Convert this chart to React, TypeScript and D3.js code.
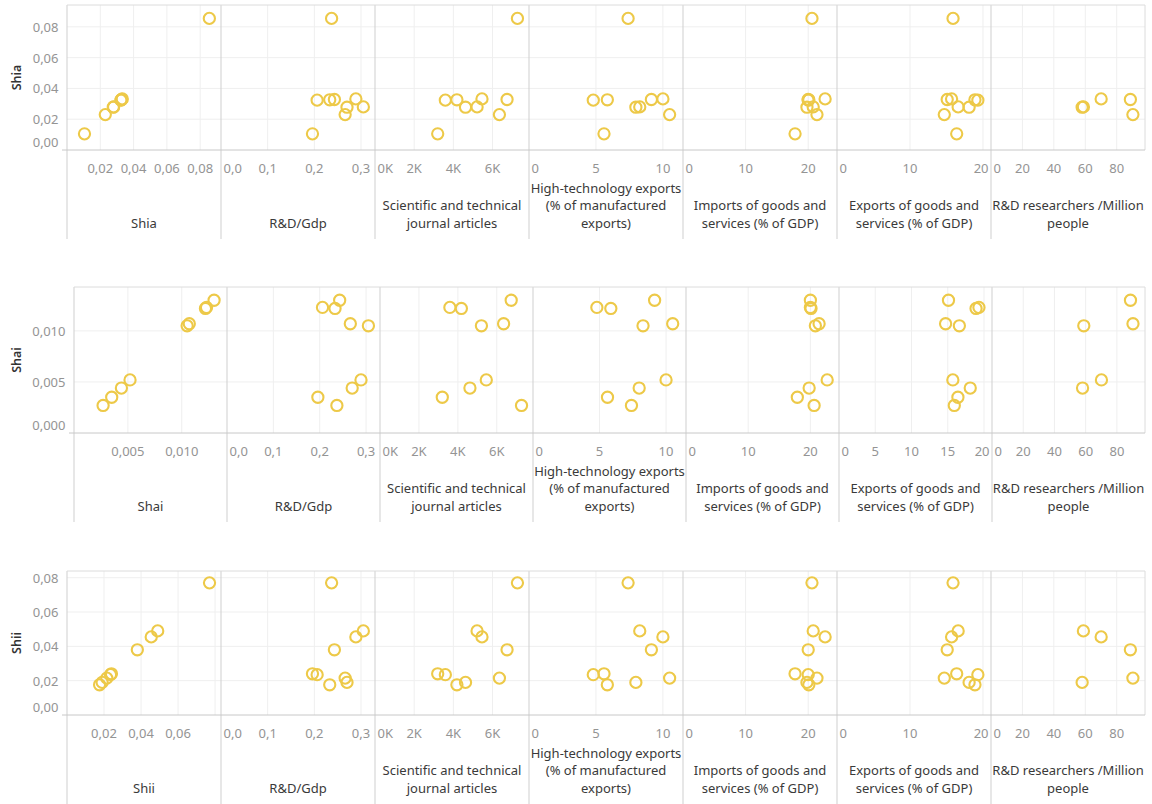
import React from 'react';
import * as d3 from 'd3';

// ---------- data (9 observations) ----------
const rdGdp = [0.196, 0.206, 0.233, 0.237, 0.243, 0.266, 0.27, 0.289, 0.305];
const journalArticles = [3200, 3590, 4180, 7270, 6740, 6350, 4620, 5460, 5210];
const highTechExports = [5.6, 4.8, 5.85, 7.4, 9.14, 10.5, 7.98, 10.0, 8.27];
const importsGdp = [17.9, 20.0, 20.1, 20.6, 20.0, 21.4, 19.8, 22.7, 20.8];
const exportsGdp = [16.4, 19.3, 18.9, 15.9, 15.1, 14.7, 18.1, 15.7, 16.6];
const researchers: (number | null)[] = [null, null, null, null, 88.7, 90.3, 58.0, 70.1, 58.8];
const shia = [0.0105, 0.0324, 0.0326, 0.0855, 0.0328, 0.023, 0.0278, 0.0332, 0.028];
const shai = [0.0035, 0.0123, 0.0122, 0.0027, 0.013, 0.0107, 0.0044, 0.0052, 0.0105];
const shii = [0.024, 0.0235, 0.0176, 0.077, 0.038, 0.0215, 0.019, 0.0455, 0.049];

const rowNames = ['Shia', 'Shai', 'Shii'];
const rowValues = [shia, shai, shii];
const columnValues: (number | null)[][] = [rdGdp, journalArticles, highTechExports, importsGdp, exportsGdp, researchers];
const columnTitles = [
  ['R&D/Gdp'],
  ['Scientific and technical', 'journal articles'],
  ['High-technology exports', '(% of manufactured', 'exports)'],
  ['Imports of goods and', 'services (% of GDP)'],
  ['Exports of goods and', 'services (% of GDP)'],
  ['R&D researchers /Million', 'people'],
];

// axis extents
const selfXMax = [0.0925, 0.0142, 0.0832];
const selfYMax = [0.0942, 0.0143, 0.0839];
const columnXMax = [0.33, 7860, 11.5, 24.6, 21.1, 98];

// ticks
const selfYTicks = [
  [0, 0.02, 0.04, 0.06, 0.08],
  [0, 0.005, 0.01],
  [0, 0.02, 0.04, 0.06, 0.08],
];
const selfXGrid = [
  [0.02, 0.04, 0.06, 0.08],
  [0.005, 0.01],
  [0.02, 0.04, 0.06, 0.08],
];
const selfXLabels = [
  [0.02, 0.04, 0.06, 0.08],
  [0.005, 0.01],
  [0.02, 0.04, 0.06],
];
const rdTicks = [0, 0.1, 0.2, 0.3];
const journalTicks = [0, 2000, 4000, 6000];
const highTechTicks = [0, 5, 10];
const importsTicks = [0, 10, 20];
const exportsTicksWide = [0, 10, 20];
const exportsTicksNarrow = [0, 5, 10, 15, 20];
const researcherTicks = [0, 20, 40, 60, 80];

const selfDecimals = [2, 3, 2];

// ---------- layout ----------
const W = 1152;
const H = 804;
const RIGHT = 1145;
const rowLayout = [
  { top: 5, axisY: 150, left: 67 },
  { top: 287, axisY: 433, left: 74 },
  { top: 571, axisY: 715, left: 67 },
];
const FONT = '"Noto Sans", "Open Sans", Arial, sans-serif';
const TICK_SIZE = 13;
const TITLE_SIZE = 13;
const MARK = '#EDC948';
const GRID = '#efefef';
const SEP = '#cfcfcf';
const TICK_COLOR = '#949494';
const TITLE_COLOR = '#3a3a3a';

let ctx: CanvasRenderingContext2D | null = null;
function textWidth(t: string, size: number) {
  if (typeof document !== 'undefined') {
    if (!ctx) ctx = document.createElement('canvas').getContext('2d');
    if (ctx) {
      ctx.font = `${size}px "Noto Sans"`;
      return ctx.measureText(t).width;
    }
  }
  return t.length * size * 0.55;
}

const comma = (s: string) => s.replace('.', ',');
function fmtCol(ci: number, v: number) {
  if (ci === 0) return comma(d3.format('.1f')(v));
  if (ci === 1) return `${Math.round(v / 1000)}K`;
  return d3.format('d')(v);
}

export default function App() {
  const els: React.ReactNode[] = [];
  let k = 0;

  rowLayout.forEach((row, ri) => {
    const colW = (RIGHT - row.left) / 7;
    const y = d3.scaleLinear().domain([0, selfYMax[ri]]).range([row.axisY, row.top]);
    const ys = rowValues[ri];
    const headerBottom = row.axisY + 89;

    for (let c = 0; c < 7; c++) {
      const x0 = row.left + c * colW;
      const x1 = x0 + colW;
      const xs: (number | null)[] = c === 0 ? ys : columnValues[c - 1];
      const xMax = c === 0 ? selfXMax[ri] : columnXMax[c - 1];
      const x = d3.scaleLinear().domain([0, xMax]).range([x0, x1]);
      let grid: number[];
      let labels: number[];
      let fmt: (v: number) => string;
      if (c === 0) {
        grid = selfXGrid[ri];
        labels = selfXLabels[ri];
        fmt = (v) => comma(d3.format(`.${selfDecimals[ri]}f`)(v));
      } else {
        const ci = c - 1;
        const list = [rdTicks, journalTicks, highTechTicks, importsTicks, ri === 1 ? exportsTicksNarrow : exportsTicksWide, researcherTicks][ci];
        grid = list.filter((v) => v > 0);
        labels = list;
        fmt = (v) => fmtCol(ci, v);
      }
      // horizontal grid
      selfYTicks[ri].filter((v) => v > 0).forEach((v) => {
        els.push(<line key={k++} x1={x0} x2={x1} y1={y(v)} y2={y(v)} stroke={GRID} strokeWidth={1} />);
      });
      // vertical grid
      grid.forEach((v) => {
        els.push(<line key={k++} x1={x(v)} x2={x(v)} y1={row.top} y2={row.axisY} stroke={GRID} strokeWidth={1} />);
      });
      // x tick labels
      labels.forEach((v) => {
        const t = fmt(v);
        const w = textWidth(t, TICK_SIZE);
        let cx = x(v);
        cx = Math.max(cx, x0 + 2.5 + w / 2);
        cx = Math.min(cx, x1 - 2.5 - w / 2);
        els.push(
          <text key={k++} x={cx} y={row.axisY + 18} textAnchor="middle" dominantBaseline="central" fontSize={TICK_SIZE} fill={TICK_COLOR} fontFamily={FONT}>{t}</text>
        );
      });
      // column title
      const title = c === 0 ? [rowNames[ri]] : columnTitles[c - 1];
      const n = title.length;
      title.forEach((line, li) => {
        const cy = row.axisY + 72.5 - (n - 1 - li) * 17.5;
        els.push(
          <text key={k++} x={(x0 + x1) / 2} y={cy} textAnchor="middle" dominantBaseline="central" fontSize={TITLE_SIZE} fill={TITLE_COLOR} fontFamily={FONT}>{line}</text>
        );
      });
      // separator line
      els.push(<line key={k++} x1={x0} x2={x0} y1={row.top} y2={headerBottom} stroke={SEP} strokeWidth={1} />);
      // points
      ys.forEach((yv, i) => {
        const xv = xs[i];
        if (xv == null) return;
        els.push(<circle key={k++} cx={x(xv)} cy={y(yv)} r={5.6} fill="none" stroke={MARK} strokeWidth={2.1} />);
      });
    }
    // right border
    els.push(<line key={k++} x1={RIGHT} x2={RIGHT} y1={row.top} y2={row.axisY} stroke={'#dcdcdc'} strokeWidth={1} />);
    // top border
    els.push(<line key={k++} x1={row.left} x2={RIGHT} y1={row.top} y2={row.top} stroke={'#dcdcdc'} strokeWidth={1} />);
    // axis line
    els.push(<line key={k++} x1={row.left - 5} x2={RIGHT} y1={row.axisY} y2={row.axisY} stroke={'#c8c8c8'} strokeWidth={1} />);
    // y tick labels
    selfYTicks[ri].forEach((v) => {
      let cy = y(v);
      cy = Math.max(cy, row.top + 7);
      cy = Math.min(cy, row.axisY - 8.5);
      els.push(
        <text key={k++} x={row.left - 8.5} y={cy} textAnchor="end" dominantBaseline="central" fontSize={TICK_SIZE} fill={TICK_COLOR} fontFamily={FONT}>
          {comma(d3.format(`.${selfDecimals[ri]}f`)(v))}
        </text>
      );
    });
    // y title
    const my = (row.top + row.axisY) / 2;
    els.push(
      <text key={k++} x={16} y={my} transform={`rotate(-90 16 ${my})`} textAnchor="middle" dominantBaseline="central" fontSize={12.5} fontWeight={600} fill={'#333'} fontFamily={FONT}>
        {rowNames[ri]}
      </text>
    );
  });

  return (
    <svg width={W} height={H} style={{ position: 'fixed', left: 0, top: 0, background: '#fff' }}>
      <rect x={0} y={0} width={W} height={H} fill="#fff" />
      {els}
    </svg>
  );
}
